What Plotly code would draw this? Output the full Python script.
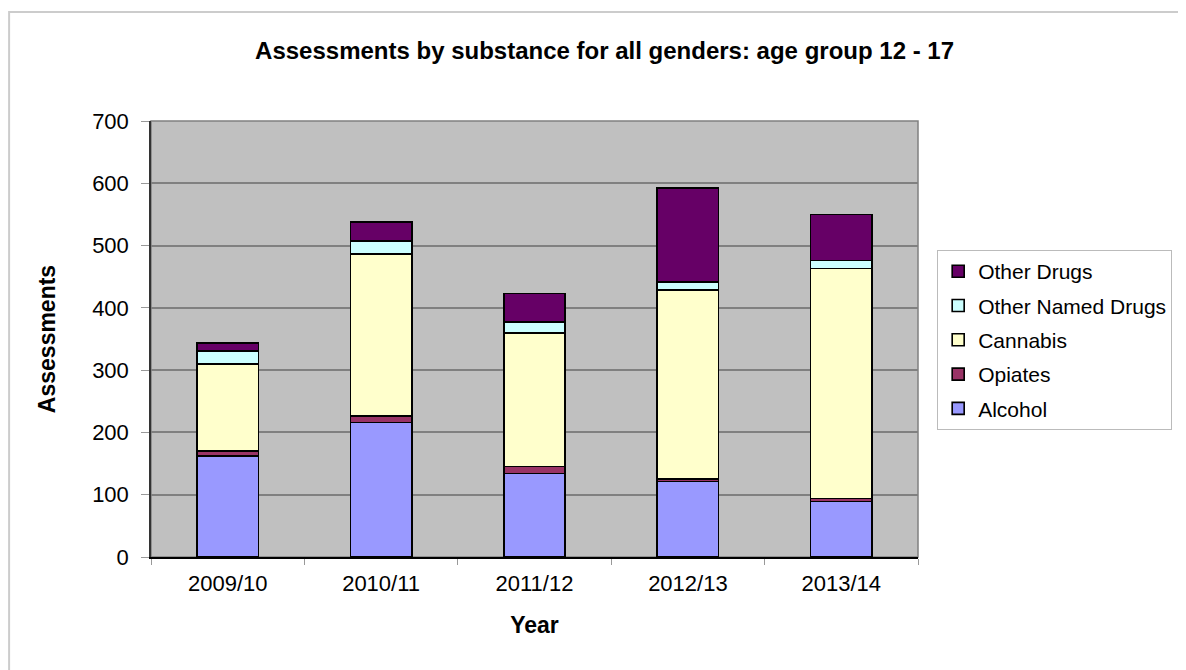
import plotly.graph_objects as go

years = ["2009/10", "2010/11", "2011/12", "2012/13", "2013/14"]
alcohol = [162, 216, 134, 121, 89]
opiates = [8, 10, 11, 4, 5]
cannabis = [140, 260, 215, 304, 369]
other_named = [21, 21, 17, 13, 13]
other_drugs = [13, 31, 46, 150, 74]

series = [
    ("Alcohol", alcohol, "#9999FF"),
    ("Opiates", opiates, "#993366"),
    ("Cannabis", cannabis, "#FFFFCC"),
    ("Other Named Drugs", other_named, "#CCFFFF"),
    ("Other Drugs", other_drugs, "#660066"),
]

fig = go.Figure()
n = len(series)
for i, (name, vals, col) in enumerate(series):
    fig.add_trace(go.Bar(
        x=years, y=vals, name=name, legendgroup=name, legendrank=n - i,
        marker=dict(color=col, line=dict(color="black", width=1.6)),
        width=0.4,
    ))

fig.update_layout(
    width=1186, height=670,
    barmode="stack",
    paper_bgcolor="white",
    plot_bgcolor="#C0C0C0",
    font=dict(family="Liberation Sans, Arial", color="black", size=21),
    margin=dict(l=143, r=276, t=113, b=121),
    title=dict(text="<b>Assessments by substance for all genders: age group 12 - 17</b>",
               x=0.503, xanchor="center", y=0.937, yanchor="middle",
               font=dict(size=24)),
    legend=dict(
        x=1.025, xanchor="left", y=0.704, yanchor="top",
        traceorder="grouped", tracegroupgap=4,
        bgcolor="white", bordercolor="#BBBBBB", borderwidth=1,
        font=dict(size=21), itemclick=False, itemwidth=30,
    ),
)
fig.update_xaxes(
    title=dict(text="<b>Year</b>", font=dict(size=23), standoff=22),
    tickson="boundaries", ticks="outside", ticklen=6, tickcolor="#999999",
    ticklabelstandoff=6,
    showline=True, linecolor="black", linewidth=1.5,
    showgrid=False, tickfont=dict(size=22),
)
fig.update_yaxes(
    title=dict(text="<b>Assessments</b>", font=dict(size=23), standoff=30),
    range=[0, 700], dtick=100, ticks="outside", ticklen=8, tickcolor="#999999",
    ticklabelstandoff=8,
    showline=True, linecolor="#333333", linewidth=1.5,
    gridcolor="#808080", gridwidth=1.5, zeroline=False,
    tickfont=dict(size=22),
)
# plot-area border
fig.add_shape(type="rect", xref="paper", yref="paper", x0=0, x1=1, y0=0, y1=1,
              line=dict(color="#808080", width=1.5), layer="below")
# outer chart border
fig.add_shape(type="rect", xref="paper", yref="paper",
              x0=-0.185, x1=1.4, y0=-0.35, y1=1.25,
              line=dict(color="#CCCCCC", width=2), layer="below")

fig.write_html("out.html")
